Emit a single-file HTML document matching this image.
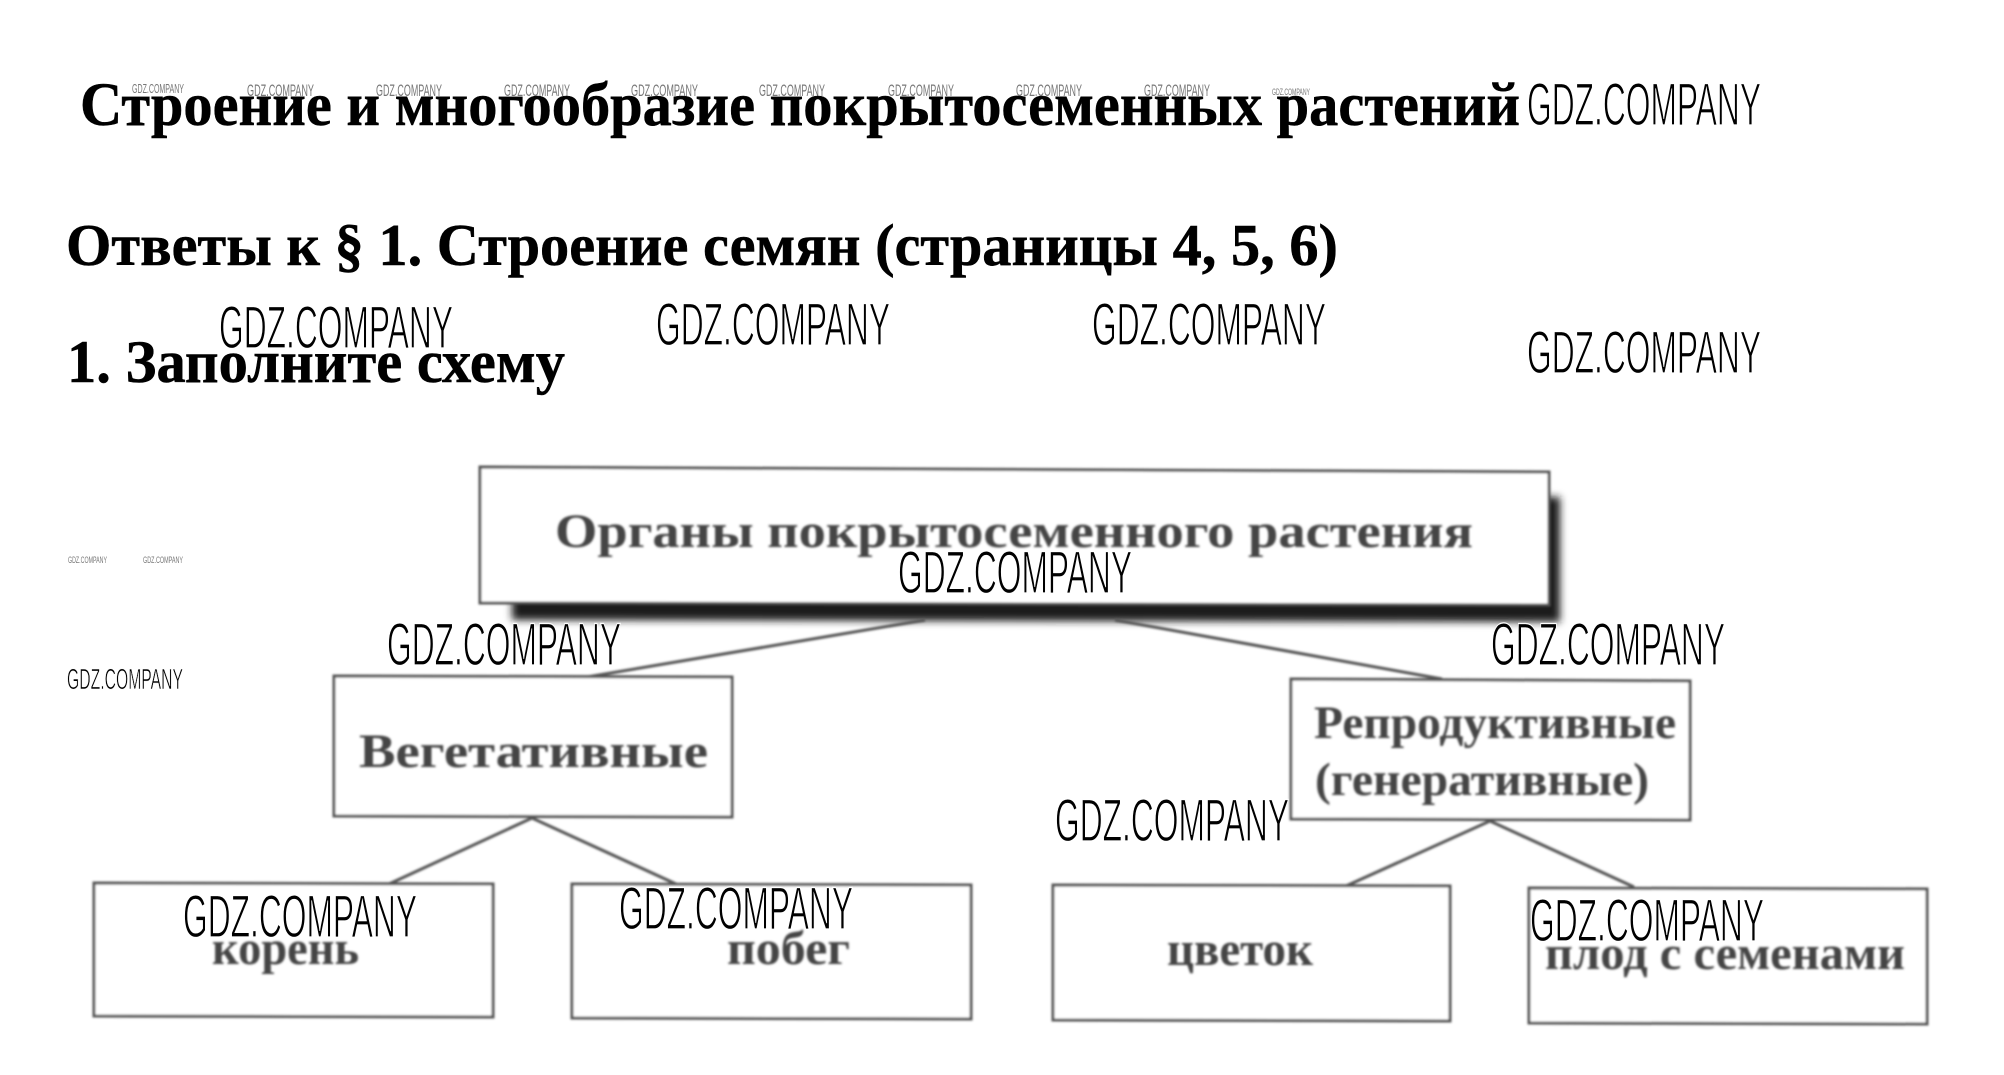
<!DOCTYPE html>
<html lang="ru">
<head>
<meta charset="utf-8">
<title>Строение и многообразие покрытосеменных растений</title>
<style>
html,body{margin:0;padding:0;background:#fff;width:2004px;height:1075px;overflow:hidden}
svg{display:block}
.h{font-family:"Liberation Serif","Noto Serif CJK SC",serif;font-weight:bold;fill:#000;stroke:#000;stroke-width:.5}
.s{font-family:"Liberation Serif","Noto Serif CJK SC",serif;font-weight:bold;fill:#444}
.w{font-family:"Liberation Sans",sans-serif;fill:#000;stroke:#fff;stroke-width:1.2}
.t{font-family:"Liberation Sans",sans-serif;fill:#777}
</style>
</head>
<body>
<svg width="2004" height="1075" viewBox="0 0 2004 1075" xmlns="http://www.w3.org/2000/svg">
<defs>
<filter id="b1" x="-5%" y="-20%" width="110%" height="140%"><feGaussianBlur stdDeviation="1"/></filter>
<filter id="b3" x="-5%" y="-20%" width="110%" height="140%"><feGaussianBlur stdDeviation="4"/></filter>
</defs>
<rect width="2004" height="1075" fill="#fff"/>

<!-- diagram -->
<g filter="url(#b3)"><polygon points="512,490 1560,497 1560,622 512,620" fill="#1c1c1c"/></g>
<g filter="url(#b1)" fill="none" stroke="#555" stroke-width="3">
<line x1="587" y1="677" x2="925" y2="620"/>
<line x1="1115" y1="620" x2="1442" y2="679"/>
<polyline points="389,884 532,818 676,884"/>
<polyline points="1346,886 1490,821 1634,887"/>
<polygon points="480,467 1549,472 1549,605 480,603" fill="#fff"/>
<polygon points="334,676 732,677 732,817 334,816" fill="#fff"/>
<polygon points="1291,679 1690,681 1690,820 1291,819" fill="#fff"/>
<polygon points="94,883 493,884 493,1017 94,1016" fill="#fff"/>
<polygon points="572,884 971,885 971,1019 572,1018" fill="#fff"/>
<polygon points="1053,885 1450,886 1450,1021 1053,1020" fill="#fff"/>
<polygon points="1529,888 1927,889 1927,1024 1529,1023" fill="#fff"/>
</g>

<!-- small watermarks -->
<text class="t" x="132" y="93" font-size="13" textLength="52" lengthAdjust="spacingAndGlyphs">GDZ.COMPANY</text>
<text class="t" x="247" y="96" font-size="17" textLength="67" lengthAdjust="spacingAndGlyphs">GDZ.COMPANY</text>
<text class="t" x="376" y="96" font-size="17" textLength="66" lengthAdjust="spacingAndGlyphs">GDZ.COMPANY</text>
<text class="t" x="504" y="96" font-size="17" textLength="66" lengthAdjust="spacingAndGlyphs">GDZ.COMPANY</text>
<text class="t" x="631" y="96" font-size="17" textLength="67" lengthAdjust="spacingAndGlyphs">GDZ.COMPANY</text>
<text class="t" x="759" y="96" font-size="17" textLength="66" lengthAdjust="spacingAndGlyphs">GDZ.COMPANY</text>
<text class="t" x="888" y="96" font-size="17" textLength="66" lengthAdjust="spacingAndGlyphs">GDZ.COMPANY</text>
<text class="t" x="1016" y="96" font-size="17" textLength="66" lengthAdjust="spacingAndGlyphs">GDZ.COMPANY</text>
<text class="t" x="1144" y="96" font-size="17" textLength="66" lengthAdjust="spacingAndGlyphs">GDZ.COMPANY</text>
<text class="t" x="1272" y="95" font-size="9" textLength="38" lengthAdjust="spacingAndGlyphs">GDZ.COMPANY</text>
<text class="t" x="68" y="563" font-size="9" textLength="39" lengthAdjust="spacingAndGlyphs">GDZ.COMPANY</text>
<text class="t" x="143" y="563" font-size="9" textLength="40" lengthAdjust="spacingAndGlyphs">GDZ.COMPANY</text>

<!-- large watermarks -->
<text class="w" x="67" y="689" font-size="29" textLength="116" lengthAdjust="spacingAndGlyphs" style="stroke-width:.6">GDZ.COMPANY</text>
<text class="w" x="1527" y="125" font-size="60" textLength="234" lengthAdjust="spacingAndGlyphs">GDZ.COMPANY</text>
<text class="w" x="219" y="348" font-size="60" textLength="234" lengthAdjust="spacingAndGlyphs">GDZ.COMPANY</text>
<text class="w" x="656" y="345" font-size="60" textLength="234" lengthAdjust="spacingAndGlyphs">GDZ.COMPANY</text>
<text class="w" x="1092" y="345" font-size="60" textLength="234" lengthAdjust="spacingAndGlyphs">GDZ.COMPANY</text>
<text class="w" x="1527" y="373" font-size="60" textLength="234" lengthAdjust="spacingAndGlyphs">GDZ.COMPANY</text>
<text class="w" x="898" y="593" font-size="60" textLength="234" lengthAdjust="spacingAndGlyphs">GDZ.COMPANY</text>
<text class="w" x="387" y="665" font-size="60" textLength="234" lengthAdjust="spacingAndGlyphs">GDZ.COMPANY</text>
<text class="w" x="1491" y="665" font-size="60" textLength="234" lengthAdjust="spacingAndGlyphs">GDZ.COMPANY</text>
<text class="w" x="1055" y="841" font-size="60" textLength="234" lengthAdjust="spacingAndGlyphs">GDZ.COMPANY</text>
<text class="w" x="183" y="937" font-size="60" textLength="234" lengthAdjust="spacingAndGlyphs">GDZ.COMPANY</text>
<text class="w" x="619" y="929" font-size="60" textLength="234" lengthAdjust="spacingAndGlyphs">GDZ.COMPANY</text>
<text class="w" x="1530" y="941" font-size="60" textLength="234" lengthAdjust="spacingAndGlyphs">GDZ.COMPANY</text>

<!-- diagram labels -->
<g filter="url(#b1)">
<text class="s" x="555" y="547" font-size="48" textLength="918" lengthAdjust="spacingAndGlyphs">Органы покрытосеменного растения</text>
<text class="s" x="359" y="767" font-size="48" textLength="349" lengthAdjust="spacingAndGlyphs">Вегетативные</text>
<text class="s" x="1314" y="738" font-size="47" textLength="362" lengthAdjust="spacingAndGlyphs">Репродуктивные</text>
<text class="s" x="1315" y="795" font-size="47" textLength="334" lengthAdjust="spacingAndGlyphs">(генеративные)</text>
<text class="s" x="212" y="964" font-size="48" textLength="147" lengthAdjust="spacingAndGlyphs">корень</text>
<text class="s" x="727" y="964" font-size="48" textLength="123" lengthAdjust="spacingAndGlyphs">побег</text>
<text class="s" x="1167" y="965" font-size="48" textLength="146" lengthAdjust="spacingAndGlyphs">цветок</text>
<text class="s" x="1545" y="969" font-size="48" textLength="360" lengthAdjust="spacingAndGlyphs">плод с семенами</text>
</g>

<!-- headings -->
<text class="h" x="80" y="125" font-size="61" textLength="1440" lengthAdjust="spacingAndGlyphs">Строение и многообразие покрытосеменных растений</text>
<text class="h" x="66" y="265" font-size="59" textLength="1272" lengthAdjust="spacingAndGlyphs">Ответы к § 1. Строение семян (страницы 4, 5, 6)</text>
<text class="h" x="67" y="382" font-size="60" textLength="498" lengthAdjust="spacingAndGlyphs">1. Заполните схему</text>
</svg>
</body>
</html>
